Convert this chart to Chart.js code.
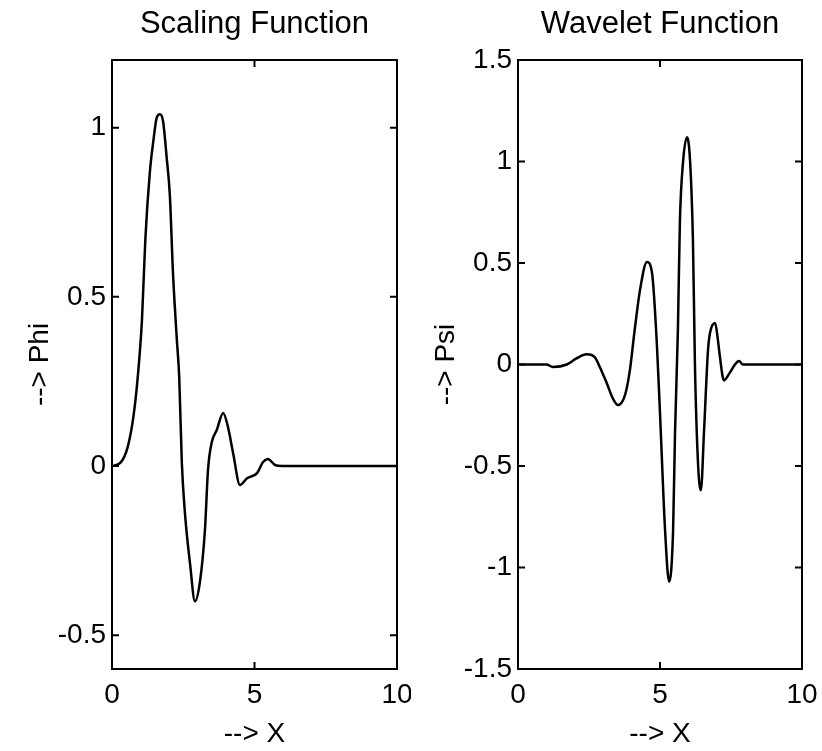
<!DOCTYPE html>
<html><head><meta charset="utf-8">
<script src="https://cdn.jsdelivr.net/npm/chart.js@4"></script>
<style>
html,body{margin:0;padding:0;background:#fff;}
#w{position:relative;width:822px;height:751px;background:#fff;}
.c{position:absolute;top:0;}
</style></head><body>
<div id="w">
<div class="c" style="left:0"><canvas id="c1" width="411" height="751"></canvas></div>
<div class="c" style="left:406px"><canvas id="c2" width="416" height="751"></canvas></div>
</div>
<script>
// ---- data ----
const phiX = [0, 0.3, 0.55, 0.75, 0.9, 1.05, 1.17, 1.33, 1.45, 1.57, 1.68, 1.79, 1.92, 2.03, 2.14, 2.27, 2.36, 2.45, 2.56, 2.74, 2.91, 3.09, 3.26, 3.37, 3.5, 3.68, 3.9, 4.07, 4.25, 4.49, 4.74, 5.09, 5.3, 5.47, 5.72, 5.96, 10];
const phiY = [0, 0.01, 0.056, 0.145, 0.26, 0.43, 0.67, 0.87, 0.96, 1.03, 1.04, 1.02, 0.91, 0.8, 0.57, 0.38, 0.26, 0.01, -0.14, -0.29, -0.40, -0.34, -0.19, -0.01, 0.07, 0.107, 0.157, 0.115, 0.038, -0.056, -0.036, -0.021, 0.012, 0.021, 0.003, 0, 0];

const psiX = [0, 1.0, 1.23, 1.72, 2.06, 2.42, 2.7, 2.88, 3.12, 3.35, 3.52, 3.77, 3.94, 4.1, 4.3, 4.54, 4.72, 4.89, 5.0, 5.18, 5.32, 5.46, 5.53, 5.63, 5.7, 5.81, 5.95, 6.06, 6.16, 6.23, 6.34, 6.44, 6.55, 6.69, 6.76, 6.94, 7.04, 7.11, 7.25, 7.46, 7.64, 7.78, 7.92, 10];
const psiY = [0, 0, -0.012, 0, 0.03, 0.05, 0.036, -0.012, -0.09, -0.17, -0.20, -0.15, -0.028, 0.16, 0.37, 0.505, 0.45, 0.10, -0.24, -0.82, -1.07, -0.82, -0.33, 0.17, 0.70, 0.995, 1.12, 1.0, 0.61, 0.0, -0.49, -0.62, -0.33, 0.07, 0.155, 0.205, 0.12, 0.037, -0.078, -0.04, 0, 0.017, 0, 0];

const xTicks = [0, 5, 10];
const phiTicks = [-0.5, 0, 0.5, 1];
const psiTicks = [-1.5, -1, -0.5, 0, 0.5, 1, 1.5];

const titles = ['Scaling Function', 'Wavelet Function'];
const yLabels = ['--> Phi', '--> Psi'];
const xLabel = '--> X';

// ---- drawing ----
const FONT = "'Liberation Sans', Arial, Helvetica, sans-serif";

const frame = {
  id: 'frame',
  afterDraw(chart) {
    const {ctx, chartArea: a, scales: {x, y}} = chart;
    const L = 7;
    ctx.save();
    ctx.strokeStyle = '#000';
    ctx.lineWidth = 2;
    ctx.strokeRect(a.left, a.top, a.right - a.left, a.bottom - a.top);
    ctx.beginPath();
    x.ticks.forEach(t => {
      const p = x.getPixelForValue(t.value);
      if (Math.abs(p - a.left) < 2 || Math.abs(p - a.right) < 2) return;
      ctx.moveTo(p, a.bottom); ctx.lineTo(p, a.bottom - L);
      ctx.moveTo(p, a.top); ctx.lineTo(p, a.top + L);
    });
    y.ticks.forEach(t => {
      const p = y.getPixelForValue(t.value);
      if (Math.abs(p - a.top) < 2 || Math.abs(p - a.bottom) < 2) return;
      ctx.moveTo(a.left, p); ctx.lineTo(a.left + L, p);
      ctx.moveTo(a.right, p); ctx.lineTo(a.right - L, p);
    });
    ctx.stroke();
    ctx.restore();
  }
};

function makeChart(id, xs, ys, yMin, yMax, yTickVals, title, yLabel, padRight) {
  const pts = xs.map((v, i) => ({x: v, y: ys[i]}));
  return new Chart(document.getElementById(id), {
    type: 'line',
    data: { datasets: [{
      data: pts, borderColor: '#000', borderWidth: 2.5, pointRadius: 0,
      cubicInterpolationMode: 'monotone', fill: false
    }]},
    plugins: [frame],
    options: {
      responsive: false, animation: false,
      layout: { padding: { left: 0, right: padRight, top: 0, bottom: 0 } },
      plugins: {
        legend: { display: false }, tooltip: { enabled: false },
        title: { display: true, text: title, color: '#000', fullSize: false,
                 font: { family: FONT, size: 31, weight: 'normal', lineHeight: 1.2 },
                 padding: { top: 6, bottom: 16.8 } }
      },
      scales: {
        x: {
          type: 'linear', min: 0, max: 10,
          afterBuildTicks: s => { s.ticks = xTicks.map(v => ({value: v})); },
          afterFit: s => { s.height = 82; s.paddingLeft = 0; s.paddingRight = 0; },
          ticks: { color: '#000', font: { family: FONT, size: 28 }, padding: 9, maxRotation: 0,
                   callback: v => String(v) },
          grid: { drawOnChartArea: false, drawTicks: false },
          border: { display: false },
          title: { display: true, text: xLabel, color: '#000',
                   font: { family: FONT, size: 28, lineHeight: 1.2 }, padding: { top: 0, bottom: 0 } }
        },
        y: {
          type: 'linear', min: yMin, max: yMax,
          afterBuildTicks: s => { s.ticks = yTickVals.map(v => ({value: v})); },
          afterFit: s => { s.width = 112; s.paddingTop = 0; s.paddingBottom = 0; },
          ticks: { color: '#000', font: { family: FONT, size: 28 }, padding: 6,
                   callback: v => String(v) },
          grid: { drawOnChartArea: false, drawTicks: false },
          border: { display: false },
          title: { display: true, text: yLabel, color: '#000',
                   font: { family: FONT, size: 28, lineHeight: 1.2 }, padding: { top: 23, bottom: 0 } }
        }
      }
    }
  });
}

makeChart('c1', phiX, phiY, -0.6, 1.2, phiTicks, titles[0], yLabels[0], 14);
makeChart('c2', psiX, psiY, -1.5, 1.5, psiTicks, titles[1], yLabels[1], 20);
</script>
</body></html>
